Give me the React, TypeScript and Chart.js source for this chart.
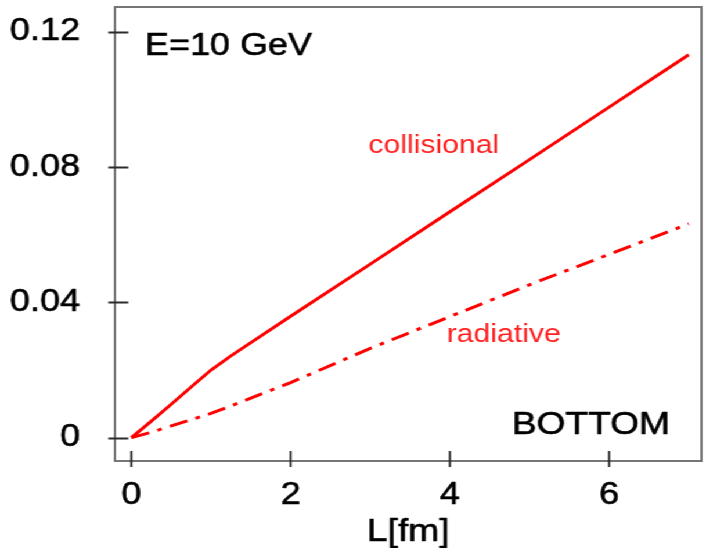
import React, { useEffect, useRef } from "react";
import { Chart, registerables } from "chart.js";

Chart.register(...registerables);

// ---- data ----
const pathLengths = [0, 0.25, 0.5, 0.75, 1, 1.25, 1.5, 2, 3, 4, 5, 6, 7];
const collisional = [0, 0.0049, 0.0099, 0.015, 0.02, 0.0242, 0.0281, 0.0359, 0.0513, 0.0668, 0.0822, 0.0977, 0.1132];
const radiative = [0, 0.0016, 0.0035, 0.0053, 0.0072, 0.0094, 0.0117, 0.0163, 0.0264, 0.0358, 0.0452, 0.0542, 0.0632];
const xTicks = [0, 2, 4, 6];
const yTicks = [0, 0.04, 0.08, 0.12];
const yTickLabels = ["0", "0.04", "0.08", "0.12"];
const xTitle = "L[fm]";
const energyLabel = "E=10 GeV";
const quarkLabel = "BOTTOM";
const collLabel = "collisional";
const radLabel = "radiative";

const W = 608;
const H = 548;
const STRETCH = 706 / W;
const FONT = "'Liberation Sans', Arial, sans-serif";

const framePlugin = {
  id: "frameAndNotes",
  afterDraw(chart: any) {
    const { ctx, chartArea, scales } = chart;
    const xs = scales.x;
    const ys = scales.y;
    ctx.save();
    // frame
    ctx.strokeStyle = "#707070";
    ctx.lineWidth = 1.9;
    ctx.strokeRect(chartArea.left, chartArea.top, chartArea.right - chartArea.left, chartArea.bottom - chartArea.top);
    // ticks crossing the frame
    ctx.strokeStyle = "#2a2a2a";
    ctx.lineWidth = 1.8;
    ctx.beginPath();
    yTicks.forEach((v) => {
      const py = Math.round(ys.getPixelForValue(v)) + 0.5;
      ctx.moveTo(chartArea.left - 5.7, py);
      ctx.lineTo(chartArea.left + 11.5, py);
    });
    xTicks.forEach((v) => {
      const px = xs.getPixelForValue(v);
      ctx.moveTo(px, chartArea.bottom - 10);
      ctx.lineTo(px, chartArea.bottom + 6);
    });
    ctx.stroke();
    // annotations
    ctx.textBaseline = "alphabetic";
    ctx.textAlign = "left";
    ctx.fillStyle = "#000";
    ctx.strokeStyle = "#000";
    ctx.lineWidth = 0.6;
    ctx.lineJoin = "round";
    ctx.font = `31px ${FONT}`;
    let px = xs.getPixelForValue(0.17);
    let py = ys.getPixelForValue(0.1131);
    ctx.fillText(energyLabel, px, py);
    ctx.strokeText(energyLabel, px, py);
    ctx.font = `32px ${FONT}`;
    px = xs.getPixelForValue(4.776);
    py = ys.getPixelForValue(0.001);
    ctx.fillText(quarkLabel, px, py);
    ctx.strokeText(quarkLabel, px, py);
    // x-axis title
    ctx.textAlign = "center";
    ctx.font = `32px ${FONT}`;
    px = (chartArea.left + chartArea.right) / 2;
    py = 540.5;
    ctx.fillText(xTitle, px, py);
    ctx.strokeText(xTitle, px, py);
    ctx.textAlign = "left";
    ctx.fillStyle = "#ff2020";
    ctx.font = `26px ${FONT}`;
    ctx.fillText(collLabel, xs.getPixelForValue(2.975), ys.getPixelForValue(0.0841));
    ctx.fillText(radLabel, xs.getPixelForValue(3.96), ys.getPixelForValue(0.0284));
    ctx.restore();
  },
};

export default function App() {
  const ref = useRef<HTMLCanvasElement>(null);
  useEffect(() => {
    if (!ref.current) return;
    const chart = new Chart(ref.current, {
      type: "line",
      data: {
        datasets: [
          {
            label: "collisional",
            data: pathLengths.map((x, i) => ({ x, y: collisional[i] })),
            borderColor: "#ff0000",
            borderWidth: 3,
            pointRadius: 0,
            tension: 0,
            fill: false,
          },
          {
            label: "radiative",
            data: pathLengths.map((x, i) => ({ x, y: radiative[i] })),
            borderColor: "#ff0000",
            borderWidth: 3,
            borderDash: [16, 7.5, 4, 7.5],
            borderCapStyle: "butt",
            pointRadius: 0,
            tension: 0,
            fill: false,
          },
        ],
      },
      options: {
        animation: false,
        responsive: false,
        devicePixelRatio: 1,
        layout: { padding: { top: 7, right: 3.9, left: 0, bottom: 0 } },
        plugins: { legend: { display: false }, tooltip: { enabled: false } },
        scales: {
          x: {
            type: "linear",
            min: -0.207,
            max: 7.16,
            grid: { display: false },
            border: { display: false },
            afterBuildTicks: (s: any) => {
              s.ticks = xTicks.map((v) => ({ value: v }));
            },
            afterFit: (s: any) => {
              s.height = 87;
              s.paddingLeft = 0;
              s.paddingRight = 0;
              s.paddingTop = 0;
              s.paddingBottom = 0;
            },
            ticks: {
              padding: 7.5,
              color: "#000",
              textStrokeColor: "#000",
              textStrokeWidth: 0.6,
              font: { family: FONT, size: 31 },
              maxRotation: 0,
              callback: (v: any) => String(v),
            },
            title: { display: false, text: xTitle },
          },
          y: {
            type: "linear",
            min: -0.00689,
            max: 0.1273,
            grid: { display: false },
            border: { display: false },
            afterBuildTicks: (s: any) => {
              s.ticks = yTicks.map((v) => ({ value: v }));
            },
            afterFit: (s: any) => {
              s.width = 99;
              s.paddingLeft = 0;
              s.paddingRight = 0;
              s.paddingTop = 0;
              s.paddingBottom = 0;
            },
            ticks: {
              padding: 22.1,
              color: "#000",
              textStrokeColor: "#000",
              textStrokeWidth: 0.6,
              font: { family: FONT, size: 31 },
              callback: (v: any) => {
                const i = yTicks.findIndex((t) => Math.abs(t - v) < 1e-9);
                return i >= 0 ? yTickLabels[i] : "";
              },
            },
          },
        },
      },
      plugins: [framePlugin],
    } as any);
    return () => chart.destroy();
  }, []);
  return (
    <div
      style={{
        position: "fixed",
        left: 0,
        top: 0,
        width: W,
        height: H,
        background: "#fff",
        transform: `scaleX(${STRETCH})`,
        transformOrigin: "0 0",
      }}
    >
      <canvas ref={ref} width={W} height={H} style={{ display: "block", width: W, height: H }} />
    </div>
  );
}
